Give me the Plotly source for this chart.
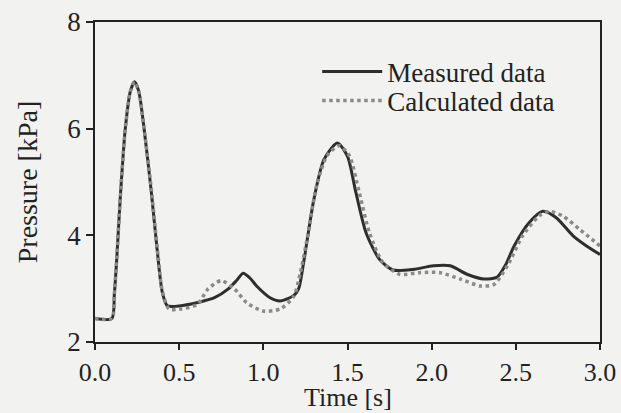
import plotly.graph_objects as go

meas_t = [0.00, 0.10, 0.115, 0.13, 0.15, 0.18, 0.21, 0.235, 0.26, 0.29, 0.335, 0.375, 0.40, 0.43,
          0.51, 0.61, 0.71, 0.79, 0.84, 0.88, 0.92, 0.96, 1.04, 1.10, 1.18, 1.21, 1.24, 1.30, 1.36,
          1.44, 1.50, 1.55, 1.61, 1.69, 1.77, 1.89, 2.01, 2.11, 2.21, 2.31, 2.39, 2.44, 2.49, 2.58,
          2.66, 2.74, 2.84, 2.92, 3.00]
meas_p = [2.44, 2.44, 2.90, 3.60, 4.70, 6.00, 6.70, 6.88, 6.70, 6.04, 4.80, 3.55, 2.93, 2.68,
          2.68, 2.74, 2.83, 2.99, 3.15, 3.29, 3.20, 3.05, 2.83, 2.77, 2.87, 3.00, 3.50, 4.67, 5.42,
          5.73, 5.48, 4.80, 4.05, 3.55, 3.35, 3.36, 3.43, 3.43, 3.27, 3.18, 3.22, 3.45, 3.80, 4.24,
          4.45, 4.33, 3.99, 3.80, 3.64]

calc_t = [0.00, 0.10, 0.115, 0.13, 0.15, 0.18, 0.21, 0.235, 0.26, 0.29, 0.335, 0.375, 0.40, 0.44,
          0.51, 0.61, 0.67, 0.75, 0.83, 0.90, 1.00, 1.10, 1.18, 1.22, 1.26, 1.32, 1.38, 1.45, 1.51,
          1.57, 1.63, 1.71, 1.81, 1.93, 2.05, 2.17, 2.29, 2.37, 2.45, 2.54, 2.64, 2.70, 2.78, 2.88,
          3.00]
calc_p = [2.44, 2.44, 2.90, 3.60, 4.70, 6.00, 6.70, 6.88, 6.70, 6.04, 4.85, 3.60, 2.95, 2.62,
          2.62, 2.71, 2.99, 3.15, 2.99, 2.74, 2.58, 2.62, 2.85, 3.30, 3.93, 4.98, 5.50, 5.68, 5.50,
          4.80, 4.05, 3.49, 3.27, 3.30, 3.30, 3.18, 3.05, 3.08, 3.43, 3.99, 4.37, 4.45, 4.36, 4.11,
          3.80]

x_ticks = [0.0, 0.5, 1.0, 1.5, 2.0, 2.5, 3.0]
x_tick_labels = ["0.0", "0.5", "1.0", "1.5", "2.0", "2.5", "3.0"]
y_ticks = [2, 4, 6, 8]

FONT = "Liberation Serif"
INK = "#222222"
BG = "#f2f2f0"

fig = go.Figure()
fig.add_trace(go.Scatter(
    x=meas_t, y=meas_p, mode="lines", name="Measured data", legend="legend",
    line=dict(color="#2e2e2e", width=3, shape="spline", smoothing=0.7),
))
fig.add_trace(go.Scatter(
    x=calc_t, y=calc_p, mode="lines", name="Calculated data", legend="legend2",
    line=dict(color="#8a8a8a", width=3.5, dash="dot", shape="spline", smoothing=0.7),
))

leg_common = dict(xanchor="left", yanchor="middle", bgcolor="rgba(0,0,0,0)",
                  font=dict(family=FONT, size=27, color=INK), itemwidth=60,
                  borderwidth=0)
fig.update_layout(
    width=621, height=413,
    margin=dict(l=95, r=21, t=22, b=71, autoexpand=False),
    paper_bgcolor=BG, plot_bgcolor=BG,
    font=dict(family=FONT, size=26, color=INK),
    showlegend=True,
    legend=dict(x=0.44, y=(342 - 72) / 320, **leg_common),
    legend2=dict(x=0.44, y=(342 - 101) / 320, **leg_common),
    annotations=[dict(text="Time [s]", xref="paper", yref="paper", x=0.5,
                      y=-(397 - 342) / 320, xanchor="center", yanchor="middle",
                      showarrow=False, font=dict(family=FONT, size=26, color=INK))],
)
fig.update_xaxes(
    range=[0, 3], tickvals=x_ticks, ticktext=x_tick_labels, automargin=False,
    showgrid=False, zeroline=False, showline=True, linecolor=INK, linewidth=1.5,
    mirror=True, ticks="outside", ticklen=6, tickwidth=1.5, tickcolor=INK,
    tickfont=dict(family=FONT, size=26, color=INK),
)
fig.update_yaxes(
    range=[2, 8], tickvals=y_ticks, automargin=False,
    showgrid=False, zeroline=False, showline=True, linecolor=INK, linewidth=1.5,
    mirror=True, ticks="outside", ticklen=7, tickwidth=1.5, tickcolor=INK,
    tickfont=dict(family=FONT, size=27, color=INK),
    title=dict(text="Pressure [kPa]", font=dict(family=FONT, size=28, color=INK), standoff=22),
)

fig.write_html("out.html", config={"displayModeBar": False},
               post_script="document.body.style.margin='0';document.body.style.background='%s';" % BG)
